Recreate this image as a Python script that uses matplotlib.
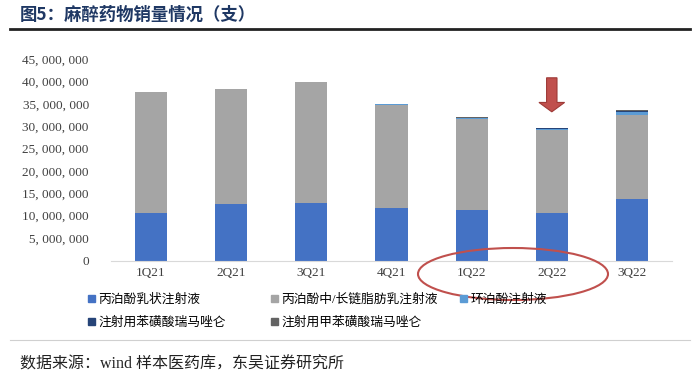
import numpy as np
import matplotlib.pyplot as plt
from matplotlib.patches import Ellipse, FancyArrow, Patch
from matplotlib.lines import Line2D
from matplotlib.ticker import FuncFormatter

plt.rcParams['font.family'] = ['Noto Sans CJK SC', 'DejaVu Sans']

# Data (units: 支)
quarters = ['1Q21', '2Q21', '3Q21', '4Q21', '1Q22', '2Q22', '3Q22']
propofol_emulsion = [10.5e6, 12.6e6, 12.8e6, 11.7e6, 11.3e6, 10.7e6, 13.7e6]
propofol_mct_lct = [27.2e6, 25.6e6, 27.0e6, 23.0e6, 20.3e6, 18.5e6, 18.9e6]
ciprofol = [0, 0, 0, 0.15e6, 0.2e6, 0.25e6, 0.6e6]
remimazolam_besylate = [0, 0, 0, 0.05e6, 0.1e6, 0.1e6, 0.1e6]
remimazolam_tosilate = [0, 0, 0, 0.02e6, 0.05e6, 0.1e6, 0.3e6]

series = [
    ('丙泊酚乳状注射液', propofol_emulsion, '#4472C4'),
    ('丙泊酚中/长链脂肪乳注射液', propofol_mct_lct, '#A5A5A5'),
    ('环泊酚注射液', ciprofol, '#5B9BD5'),
    ('注射用苯磺酸瑞马唑仑', remimazolam_besylate, '#264478'),
    ('注射用甲苯磺酸瑞马唑仑', remimazolam_tosilate, '#636363'),
]
serif_cjk = ['Liberation Serif', 'Noto Sans CJK SC']

W, H = 699, 386
fig = plt.figure(figsize=(W / 100, H / 100), dpi=100)

# title and rules
fig.text(20 / W, 1 - 15 / H, '图5：麻醉药物销量情况（支）', fontsize=12.5, fontweight='bold',
         color='#1F3864', va='center', ha='left')
fig.add_artist(Line2D([10 / W, 690 / W], [1 - 29 / H, 1 - 29 / H], color='#222222', lw=2))
fig.add_artist(Line2D([10 / W, 690 / W], [1 - 340 / H, 1 - 340 / H], color='#D0D0D0', lw=0.8))
fig.text(20 / W, 1 - 365 / H, '数据来源：wind 样本医药库，东吴证券研究所', fontsize=11.5,
         family=serif_cjk, color='#222222', va='center', ha='left')

ax = fig.add_axes([111 / W, 1 - 260.5 / H, 561 / W, 201.5 / H])
x = np.arange(len(quarters))
bottom = np.zeros(len(quarters))
handles = []
for name, vals, color in series:
    vals = np.array(vals)
    ax.bar(x, vals, 0.4, bottom=bottom, color=color, label=name, linewidth=0)
    bottom += vals
    handles.append(Patch(color=color, label=name))

ax.set_xlim(-0.5, len(quarters) - 0.5)
ax.set_ylim(0, 45e6)
ax.set_yticks(np.arange(0, 45e6 + 1, 5e6))
ax.yaxis.set_major_formatter(FuncFormatter(lambda v, p: f'{int(v):,}'.replace(',', ', ')))
ax.set_xticks(x)
ax.set_xticklabels(quarters)
for lbl in ax.get_xticklabels() + ax.get_yticklabels():
    lbl.set_fontfamily('Liberation Serif')
    lbl.set_fontsize(9.5)
    lbl.set_color('#404040')
for s in ['top', 'right', 'left']:
    ax.spines[s].set_visible(False)
ax.spines['bottom'].set_color('#D9D9D9')
ax.tick_params(axis='both', length=0)
ax.tick_params(axis='x', pad=5)
ax.tick_params(axis='y', pad=16)

# red arrow over 2Q22
ax.add_patch(FancyArrow(5, 40.8e6, 0, -7.6e6, width=0.13, head_width=0.32,
                        head_length=2.1e6, length_includes_head=True,
                        facecolor='#C0504D', edgecolor='#9E3A37', lw=0.8, clip_on=False))

# red ellipse around 1Q22 / 2Q22
fig.add_artist(Ellipse((513 / W, 1 - 274 / H), 190 / W, 52 / H, transform=fig.transFigure,
                       fill=False, edgecolor='#C0504D', lw=1.5))

# legend entries placed like the original (two rows)
legend_pos = [(88, 300), (271, 300), (460, 300), (88, 323), (271, 323)]
for h, (px, py) in zip(handles, legend_pos):
    fig.legend([h], [h.get_label()], loc='center left', bbox_to_anchor=(px / W, 1 - py / H),
               frameon=False, prop={'family': serif_cjk, 'size': 9.2},
               handlelength=0.55, handleheight=0.55, handletextpad=0.25,
               borderaxespad=0, borderpad=0)

plt.savefig('out.png', dpi=100)
